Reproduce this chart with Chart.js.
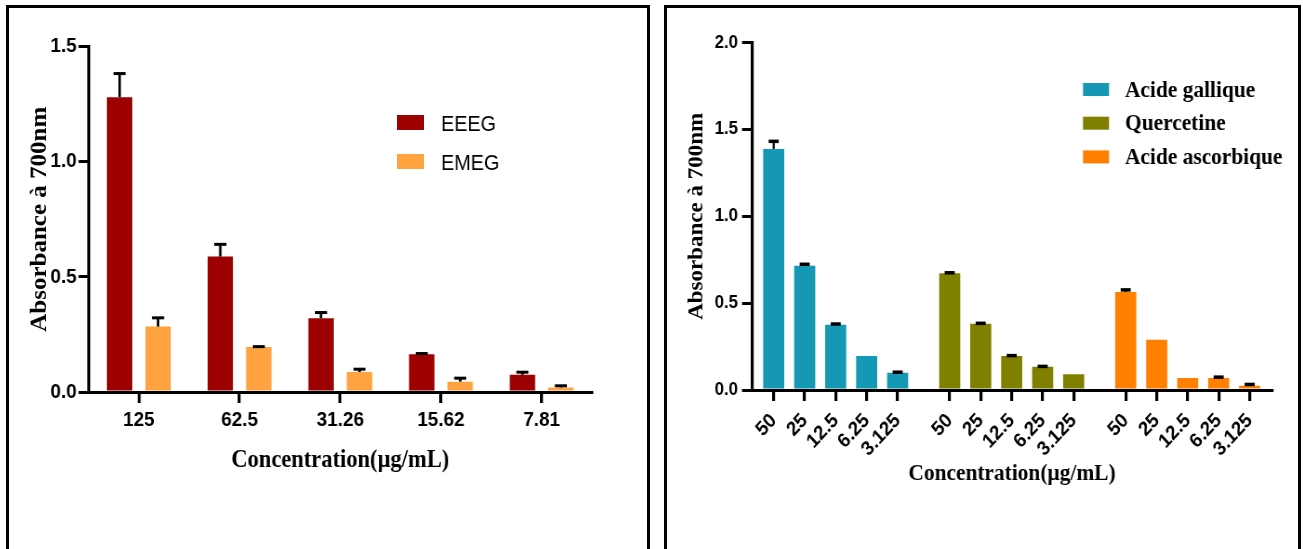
<!DOCTYPE html>
<html>
<head>
<meta charset="utf-8">
<script src="https://cdn.jsdelivr.net/npm/chart.js@4.4.1/dist/chart.umd.min.js"></script>
<style>
  html, body { margin: 0; padding: 0; background: #fff; }
  body { width: 1303px; height: 549px; position: relative; overflow: hidden; }
  .frame { position: absolute; top: 5px; height: 600px; border: 3px solid #000; border-bottom: none; box-sizing: border-box; }
  #frameL { left: 6px; width: 644px; }
  #frameR { left: 664px; width: 637px; }
  .panel { position: absolute; top: 8px; height: 541px; overflow: hidden; }
  #panelL { left: 9px; width: 637px; }
  #panelR { left: 667px; width: 631px; }
  .stretch { position: absolute; left: 0; top: 0; height: 541px; transform-origin: 0 0; }
  #panelL .stretch { width: 708px; transform: scaleX(0.9); }
  #panelR .stretch { width: 678px; transform: scaleX(0.93); }
  canvas { display: block; }
</style>
</head>
<body>
<div class="frame" id="frameL"></div>
<div class="frame" id="frameR"></div>
<div class="panel" id="panelL"><div class="stretch"><canvas id="leftChart" width="708" height="541"></canvas></div></div>
<div class="panel" id="panelR"><div class="stretch"><canvas id="rightChart" width="678" height="541"></canvas></div></div>

<script>
// ---- Extracts (EEEG / EMEG) ----
const extractConcentrations = ['125', '62.5', '31.26', '15.62', '7.81'];
const eeeg    = [1.28, 0.588, 0.32, 0.164, 0.075];
const eeegErr = [0.1025, 0.053, 0.025, 0.003, 0.011];
const emeg    = [0.284, 0.195, 0.087, 0.045, 0.02];
const emegErr = [0.038, 0.002, 0.012, 0.015, 0.007];
const extractYTicks = [0, 0.5, 1.0, 1.5];

// ---- Reference standards ----
const standardConcentrations = ['50', '25', '12.5', '6.25', '3.125'];
const gallicAcid       = [1.388, 0.716, 0.376, 0.196, 0.0996];
const gallicAcidErr    = [0.044, 0.008, 0.004, 0, 0.003];
const quercetin        = [0.672, 0.382, 0.196, 0.134, 0.09];
const quercetinErr     = [0.003, 0.002, 0.002, 0.002, 0];
const ascorbicAcid     = [0.564, 0.29, 0.069, 0.069, 0.025];
const ascorbicAcidErr  = [0.0125, 0, 0, 0.005, 0.007];
const standardYTicks = [0, 0.5, 1.0, 1.5, 2.0];

const SANS = "Arial, 'Liberation Sans', sans-serif";
const SERIF = "'Times New Roman', 'Liberation Serif', serif";

// Error bars: stem from the bar top up to value + error, with a cap.
const errorBarPlugin = {
  id: 'errorBars',
  afterDatasetsDraw(chart, args, o) {
    const ctx = chart.ctx;
    const yScale = chart.scales.y;
    chart.data.datasets.forEach((ds, i) => {
      if (!ds.errors) return;
      const meta = chart.getDatasetMeta(i);
      meta.data.forEach((bar, j) => {
        const err = ds.errors[j];
        if (!err) return;
        const val = meta.controller.getParsed(j).y;
        const top = yScale.getPixelForValue(val + err);
        ctx.save();
        ctx.strokeStyle = '#000';
        ctx.lineCap = 'butt';
        ctx.lineWidth = o.stemWidth;
        ctx.beginPath();
        ctx.moveTo(bar.x, bar.y);
        ctx.lineTo(bar.x, top);
        ctx.stroke();
        ctx.lineWidth = o.capWidth;
        ctx.beginPath();
        ctx.moveTo(bar.x - o.capHalf, top);
        ctx.lineTo(bar.x + o.capHalf, top);
        ctx.stroke();
        ctx.restore();
      });
    });
  }
};

// Legend drawn inside the plot: colour swatch + dataset label per row.
const boxLegendPlugin = {
  id: 'boxLegend',
  afterDraw(chart, args, o) {
    const ctx = chart.ctx;
    ctx.save();
    ctx.font = o.font;
    ctx.textAlign = 'left';
    ctx.textBaseline = 'alphabetic';
    chart.data.datasets.forEach((ds, i) => {
      const y = o.top + i * o.step;
      ctx.fillStyle = ds.backgroundColor;
      ctx.fillRect(o.boxX, y, o.boxW, o.boxH);
      ctx.fillStyle = '#000';
      ctx.fillText(ds.label, o.textX, y + o.textDy);
    });
    ctx.restore();
  }
};

function axisGrid(tickLength, tickWidth) {
  return { display: true, drawOnChartArea: false, drawTicks: true, tickLength: tickLength,
           tickWidth: tickWidth, lineWidth: tickWidth, color: '#000', tickColor: '#000', offset: false };
}

// ---------- Extracts chart ----------
new Chart(document.getElementById('leftChart'), {
  type: 'bar',
  data: {
    labels: extractConcentrations,
    datasets: [
      { label: 'EEEG', data: eeeg, errors: eeegErr, backgroundColor: '#9c0000' },
      { label: 'EMEG', data: emeg, errors: emegErr, backgroundColor: '#ffa340' }
    ]
  },
  options: {
    responsive: false,
    animation: false,
    datasets: { bar: { categoryPercentage: 0.764, barPercentage: 0.66 } },
    layout: { padding: { left: 0, top: 38.5, right: 60.2, bottom: 0 } },
    plugins: {
      legend: { display: false },
      tooltip: { enabled: false },
      errorBars: { stemWidth: 2.8, capWidth: 3, capHalf: 6.7 },
      boxLegend: { font: "22px " + SANS, top: 107, step: 39, boxX: 431, boxW: 30, boxH: 15, textX: 480, textDy: 15.7 }
    },
    scales: {
      x: {
        type: 'category',
        offset: true,
        z: 1,
        grid: axisGrid(11, 3.3),
        border: { display: true, color: '#000', width: 3 },
        ticks: { color: '#000', font: { family: SANS, size: 21, weight: 'bold' }, padding: 5, maxRotation: 0, autoSkip: false },
        title: { display: true, text: 'Concentration(µg/mL)', color: '#000',
                 font: { family: SERIF, size: 25, weight: 'bold' }, padding: { top: 0, bottom: 73 } },
        afterFit: s => { s.height = 157; }
      },
      y: {
        min: 0, max: 1.5,
        z: 1,
        afterBuildTicks: s => { s.ticks = extractYTicks.map(v => ({ value: v })); },
        grid: axisGrid(11, 3),
        border: { display: true, color: '#000', width: 3.3 },
        ticks: { color: '#000', font: { family: SANS, size: 21, weight: 'bold' }, padding: 2,
                 callback: v => Number(v).toFixed(1) },
        title: { display: true, text: 'Absorbance à 700nm', color: '#000',
                 font: { family: SERIF, size: 25, weight: 'bold' }, padding: { top: 19.4, bottom: 0 } },
        afterFit: s => { s.width = 88.3; }
      }
    }
  },
  plugins: [errorBarPlugin, boxLegendPlugin]
});

// ---------- Standards chart ----------
// Bars sit on a linear axis: one unit per concentration, with a gap between substances.
const GROUP_GAP = 0.68;
const GROUP_STRIDE = standardConcentrations.length + GROUP_GAP;
const barPos = (g, i) => g * GROUP_STRIDE + i;
const toPoints = (vals, g) => vals.map((v, i) => ({ x: barPos(g, i), y: v }));
const standardTickPositions = [0, 1, 2].flatMap(g => standardConcentrations.map((_, i) => barPos(g, i)));
const standardTickLabels = [0, 1, 2].flatMap(() => standardConcentrations);

new Chart(document.getElementById('rightChart'), {
  type: 'bar',
  data: {
    datasets: [
      { label: 'Acide gallique', data: toPoints(gallicAcid, 0), errors: gallicAcidErr, backgroundColor: '#1598b3' },
      { label: 'Quercetine', data: toPoints(quercetin, 1), errors: quercetinErr, backgroundColor: '#7f7f00' },
      { label: 'Acide ascorbique', data: toPoints(ascorbicAcid, 2), errors: ascorbicAcidErr, backgroundColor: '#ff8000' }
    ]
  },
  options: {
    responsive: false,
    animation: false,
    datasets: { bar: { grouped: false, categoryPercentage: 1, barPercentage: 0.68 } },
    layout: { padding: { left: 0, top: 34.7, right: 27.5, bottom: 0 } },
    plugins: {
      legend: { display: false },
      tooltip: { enabled: false },
      errorBars: { stemWidth: 2.2, capWidth: 3.5, capHalf: 5.4 },
      boxLegend: { font: "bold 23px " + SERIF, top: 75, step: 33.7, boxX: 447.3, boxW: 28, boxH: 13, textX: 492.5, textDy: 13.7 }
    },
    scales: {
      x: {
        type: 'linear',
        min: -0.7,
        max: 2 * GROUP_STRIDE + standardConcentrations.length - 1 + 0.72,
        offset: false,
        z: 1,
        afterBuildTicks: s => { s.ticks = standardTickPositions.map(v => ({ value: v })); },
        grid: axisGrid(11, 3.2),
        border: { display: true, color: '#000', width: 3 },
        ticks: { color: '#000', font: { family: SANS, size: 20, weight: 'bold' }, padding: 8,
                 minRotation: 45, maxRotation: 45, autoSkip: false,
                 callback: (v, i) => standardTickLabels[i] },
        title: { display: true, text: 'Concentration(µg/mL)', color: '#000',
                 font: { family: SERIF, size: 23, weight: 'bold' }, padding: { top: 0, bottom: 61.2 } },
        afterFit: s => { s.height = 159; }
      },
      y: {
        min: 0, max: 2.0,
        z: 1,
        afterBuildTicks: s => { s.ticks = standardYTicks.map(v => ({ value: v })); },
        grid: axisGrid(10.75, 3),
        border: { display: true, color: '#000', width: 3.2 },
        ticks: { color: '#000', font: { family: SANS, size: 18, weight: 'bold' }, padding: 4.3,
                 callback: v => Number(v).toFixed(1) },
        title: { display: true, text: 'Absorbance à 700nm', color: '#000',
                 font: { family: SERIF, size: 23, weight: 'bold' }, padding: { top: 18.5, bottom: 0 } },
        afterFit: s => { s.width = 91.4; }
      }
    }
  },
  plugins: [errorBarPlugin, boxLegendPlugin]
});
</script>
</body>
</html>
